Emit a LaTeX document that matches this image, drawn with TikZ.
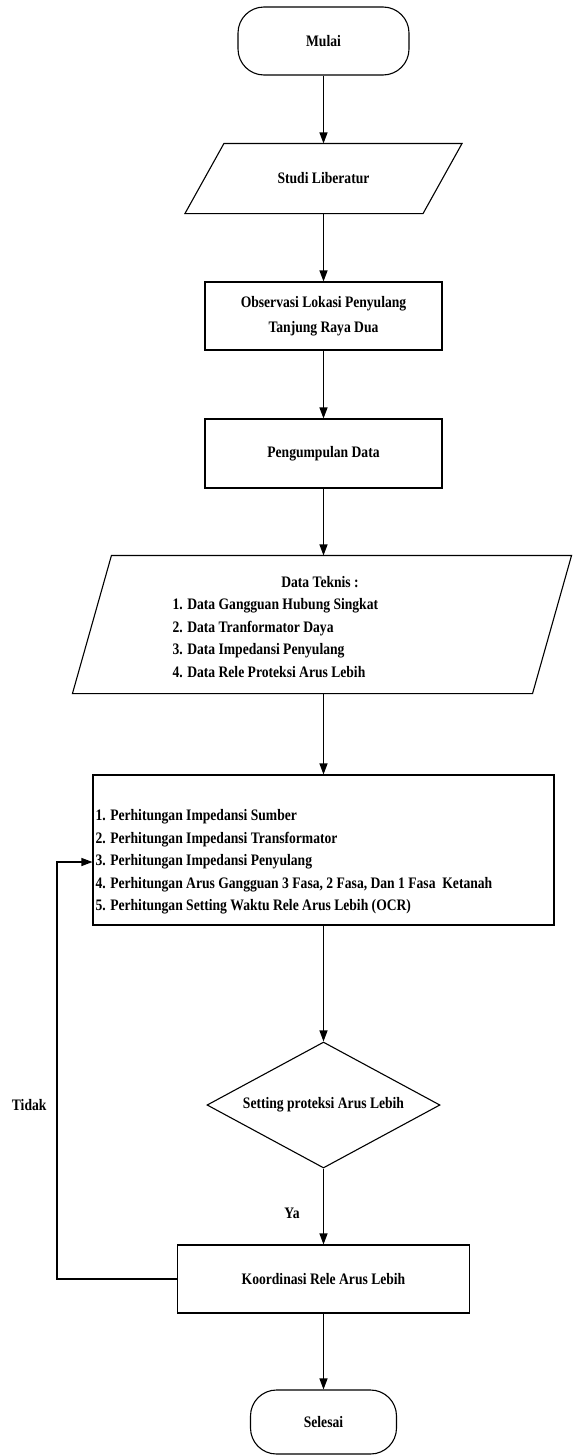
\documentclass[tikz,border=0pt]{standalone}
\usepackage{fontspec}
\setmainfont{Liberation Serif}[FakeStretch=0.85]
\usetikzlibrary{shapes.geometric,arrows.meta}
\begin{document}
\begin{tikzpicture}[x=1pt,y=-1pt,line width=1.1pt,
  font=\fontsize{16}{22}\selectfont\bfseries,
  box/.style={draw,rectangle,inner sep=0pt,align=center},
  term/.style={draw,rectangle,rounded corners=26pt,inner sep=0pt,minimum width=171pt,minimum height=68pt},
  ghost/.style={rectangle,inner sep=0pt},
  txt/.style={inner sep=0pt,align=left},
  arr/.style={-{Triangle[length=11pt,width=8pt]}}]
\useasboundingbox (0,0) rectangle (579,1456);
% nodes
\node[term] (mulai) at (323.5,41) {Mulai};
\node[ghost,minimum width=237pt,minimum height=69pt] (studi) at (323.5,178.5) {Studi Liberatur};
\draw ([xshift=19.5pt]studi.north west) -- ([xshift=19.5pt]studi.north east)
   -- ([xshift=-19.5pt]studi.south east) -- ([xshift=-19.5pt]studi.south west) -- cycle;
\node[box,minimum width=237pt,minimum height=68pt,font=\fontsize{16}{25}\selectfont\bfseries] (obs) at (323.5,316)
  {Observasi Lokasi Penyulang\\Tanjung Raya Dua};
\node[box,minimum width=237pt,minimum height=69pt] (peng) at (323.5,453.5) {Pengumpulan Data};
\node[ghost,minimum width=459pt,minimum height=137pt] (data) at (322,624.5) {};
\draw ([xshift=19.5pt]data.north west) -- ([xshift=19.5pt]data.north east)
   -- ([xshift=-19.5pt]data.south east) -- ([xshift=-19.5pt]data.south west) -- cycle;
\node[txt] (dtitle) at (320,582) {Data Teknis :};
\node[txt,anchor=west,font=\fontsize{16}{22.5}\selectfont\bfseries] (dlist) at (172,638)
  {1. Data Gangguan Hubung Singkat\\2. Data Tranformator Daya\\3. Data Impedansi Penyulang\\4. Data Rele Proteksi Arus Lebih};
\node[box,minimum width=461pt,minimum height=150pt] (calc) at (323.5,850) {};
\node[txt,anchor=west,font=\fontsize{16}{22.5}\selectfont\bfseries] (clist) at (95,862)
  {1. Perhitungan Impedansi Sumber\\2. Perhitungan Impedansi Transformator\\3. Perhitungan Impedansi Penyulang\\4. Perhitungan Arus Gangguan 3 Fasa, 2 Fasa, Dan 1 Fasa\ \ Ketanah\\5. Perhitungan Setting Waktu Rele Arus Lebih (OCR)};
\node[draw,diamond,inner sep=0pt,shape aspect=1.85,minimum width=233pt,minimum height=126pt] (dec) at (323.5,1105) {Setting proteksi Arus Lebih};
\node[box,minimum width=292pt,minimum height=68pt] (koor) at (323.5,1279) {Koordinasi Rele Arus Lebih};
\node[term,minimum width=146pt,minimum height=64pt] (selesai) at (323.5,1422) {Selesai};
\node[txt,anchor=east] (tidak) at (47,1105) {Tidak};
\node[txt] (ya) at (292,1213) {Ya};
\coordinate (loopx) at (57,0);
\coordinate (calcin) at ([yshift=-12pt]calc.west);
% connectors
\draw[arr] (mulai) -- (studi);
\draw[arr] (studi) -- (obs);
\draw[arr] (obs) -- (peng);
\draw[arr] (peng.south) -- (peng.south |- data.north);
\draw[arr] (calc.north |- data.south) -- (calc.north);
\draw[arr] (calc) -- (dec);
\draw[arr] (dec) -- (koor);
\draw[arr] (koor) -- (selesai);
\draw[arr] (koor.west) -- (koor.west -| loopx) -- (loopx |- calcin) -- (calcin);
\end{tikzpicture}
\end{document}
